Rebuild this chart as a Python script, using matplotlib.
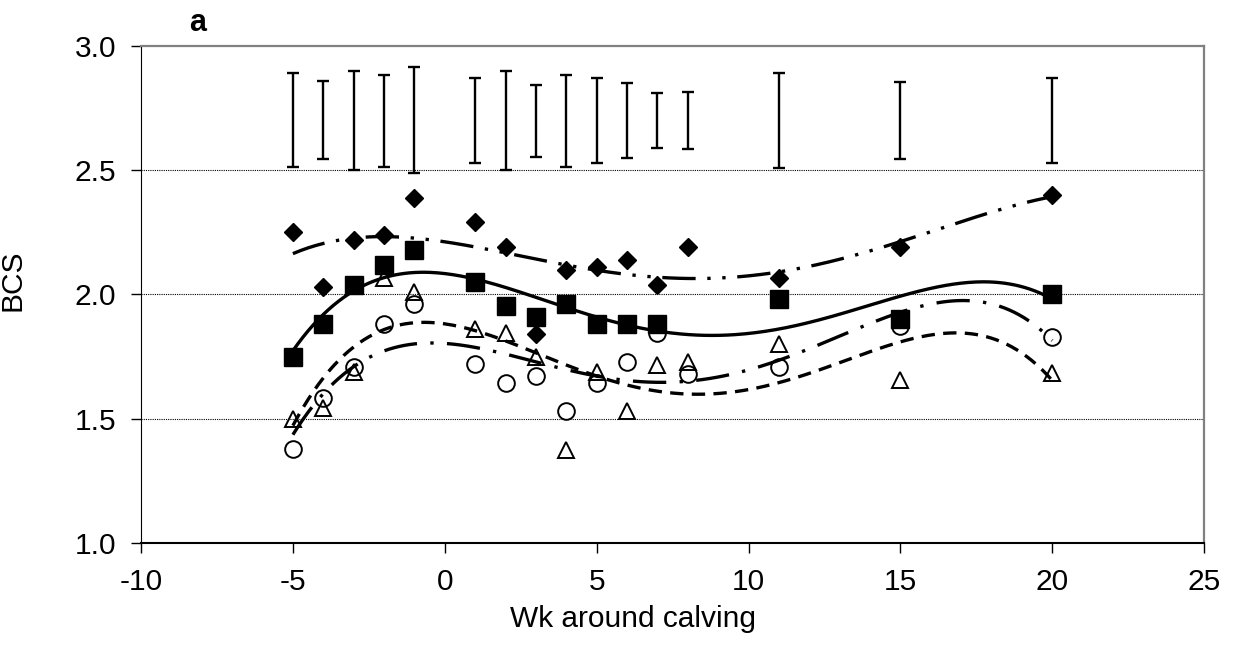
import numpy as np
import matplotlib.pyplot as plt

plt.rcParams['font.family'] = ['Liberation Sans', 'DejaVu Sans']
plt.rcParams['axes.unicode_minus'] = False

# weeks around calving
wk = [-5, -4, -3, -2, -1, 1, 2, 3, 4, 5, 6, 7, 8, 11, 15, 20]

# filled diamonds
diam = [2.25, 2.03, 2.22, 2.24, 2.39, 2.29, 2.19, 1.84, 2.10, 2.11, 2.14, 2.04, 2.19, 2.065, 2.19, 2.40]
# filled squares (no value at wk 8)
wk_sq = [-5, -4, -3, -2, -1, 1, 2, 3, 4, 5, 6, 7, 11, 15, 20]
squa = [1.75, 1.88, 2.04, 2.12, 2.18, 2.05, 1.955, 1.91, 1.96, 1.88, 1.88, 1.88, 1.98, 1.90, 2.00]
# open circles
circ = [1.38, 1.585, 1.71, 1.88, 1.96, 1.72, 1.645, 1.67, 1.53, 1.645, 1.73, 1.845, 1.68, 1.71, 1.875, 1.83]
# open triangles
tria = [1.50, 1.545, 1.69, 2.065, 2.01, 1.86, 1.845, 1.75, 1.375, 1.69, 1.53, 1.715, 1.73, 1.80, 1.655, 1.685]

# error bars (low, high)
err_lo = [2.515, 2.545, 2.50, 2.515, 2.49, 2.53, 2.50, 2.555, 2.515, 2.53, 2.55, 2.59, 2.585, 2.51, 2.545, 2.53]
err_hi = [2.89, 2.86, 2.90, 2.885, 2.915, 2.87, 2.90, 2.845, 2.885, 2.87, 2.85, 2.81, 2.815, 2.89, 2.855, 2.87]

fig = plt.figure(figsize=(12.35, 6.56), dpi=100)
ax = fig.add_axes([0.1142, 0.1723, 0.8608, 0.7576])

# SEM bars
mid = [(a + b) / 2 for a, b in zip(err_lo, err_hi)]
half = [(b - a) / 2 for a, b in zip(err_lo, err_hi)]
ax.errorbar(wk, mid, yerr=half, fmt='none', ecolor='black', elinewidth=1.7,
            capsize=4.5, capthick=1.7)

xs = np.linspace(-5, 20, 300)


def trend(x, y, ls):
    p = np.polyfit(x, y, 4)
    ax.plot(xs, np.polyval(p, xs), color='black', lw=2.4, linestyle=ls)


trend(wk, diam, (0, (10, 3.5, 1, 3.5, 1, 3.5)))
trend(wk_sq, squa, '-')
trend(wk, circ, (0, (10, 4, 1, 4)))
trend(wk, tria, (0, (4, 2.5)))

ax.plot(wk, diam, 'D', color='black', ms=9.5, ls='none')
ax.plot(wk_sq, squa, 's', color='black', ms=13, ls='none')
ax.plot(wk, circ, 'o', mfc='none', mec='black', mew=1.4, ms=12, ls='none')
ax.plot(wk, tria, '^', mfc='none', mec='black', mew=1.4, ms=11.5, ls='none')

ax.set_xlim(-10, 25)
ax.set_ylim(1.0, 3.0)
ax.set_xticks(range(-10, 26, 5))
ax.set_yticks([1.0, 1.5, 2.0, 2.5, 3.0])
ax.set_yticklabels(['1.0', '1.5', '2.0', '2.5', '3.0'])
for yv in [1.5, 2.0, 2.5]:
    ax.axhline(yv, color='black', lw=0.8, linestyle=(0, (1, 1)), zorder=0)

ax.tick_params(direction='out', length=7, width=1, labelsize=21.5, pad=11)
ax.spines['left'].set_color('black')
ax.spines['bottom'].set_color('black')
ax.spines['bottom'].set_linewidth(1.5)
ax.spines['top'].set_color('#808080')
ax.spines['right'].set_color('#808080')
ax.spines['top'].set_linewidth(1.6)
ax.spines['right'].set_linewidth(1.6)

ax.set_xlabel('Wk around calving', fontsize=21.5)
ax.set_ylabel('BCS', fontsize=21.5)
ax.xaxis.set_label_coords(0.463, -0.125)
ax.yaxis.set_label_coords(-0.108, 0.529)

fig.text(0.16, 0.965, 'a', fontsize=22, fontweight='bold', ha='center', va='center')

fig.savefig('out.png', dpi=100)
